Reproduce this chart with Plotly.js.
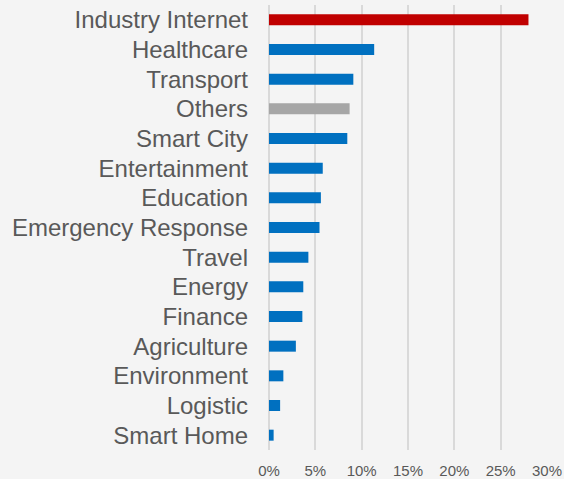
<!DOCTYPE html>
<html>
<head>
<meta charset="utf-8">
<script src="https://cdn.plot.ly/plotly-3.0.1.min.js"></script>
<style>html,body{margin:0;padding:0;background:#f4f4f4;}</style>
</head>
<body>
<div id="chart" style="width:564px;height:479px;"></div>
<script>
const categories = ["Industry Internet","Healthcare","Transport","Others","Smart City","Entertainment","Education","Emergency Response","Travel","Energy","Finance","Agriculture","Environment","Logistic","Smart Home"];
const shares = [28.0, 11.35, 9.1, 8.7, 8.45, 5.8, 5.6, 5.45, 4.25, 3.7, 3.6, 2.9, 1.55, 1.2, 0.5];
const barColors = ["#c00000","#0070c0","#0070c0","#a6a6a6","#0070c0","#0070c0","#0070c0","#0070c0","#0070c0","#0070c0","#0070c0","#0070c0","#0070c0","#0070c0","#0070c0"];
const tickVals = [0,5,10,15,20,25,30];
const tickText = ["0%","5%","10%","15%","20%","25%","30%"];

Plotly.newPlot("chart", [{
  type: "bar",
  orientation: "h",
  x: shares,
  y: categories,
  marker: {color: barColors},
  width: 0.37,
  hoverinfo: "x+y"
}], {
  width: 564, height: 479,
  paper_bgcolor: "#f4f4f4",
  plot_bgcolor: "#f4f4f4",
  margin: {l: 269, r: 17, t: 5, b: 29},
  showlegend: false,
  font: {family: "'Liberation Sans', Arial, sans-serif", color: "#595959"},
  xaxis: {
    range: [0, 30],
    tickvals: tickVals,
    ticktext: tickText,
    showgrid: true,
    gridcolor: "#d9d9d9",
    gridwidth: 1.7,
    zeroline: true,
    zerolinecolor: "#d9d9d9",
    zerolinewidth: 1.7,
    showline: false,
    ticks: "",
    ticklabelstandoff: 10,
    tickfont: {size: 15, color: "#595959"}
  },
  yaxis: {
    type: "category",
    autorange: "reversed",
    showgrid: false,
    zeroline: false,
    showline: false,
    ticks: "",
    ticklabelstandoff: 20,
    tickfont: {size: 24, color: "#595959"}
  }
}, {displayModeBar: false, staticPlot: true});
</script>
</body>
</html>
